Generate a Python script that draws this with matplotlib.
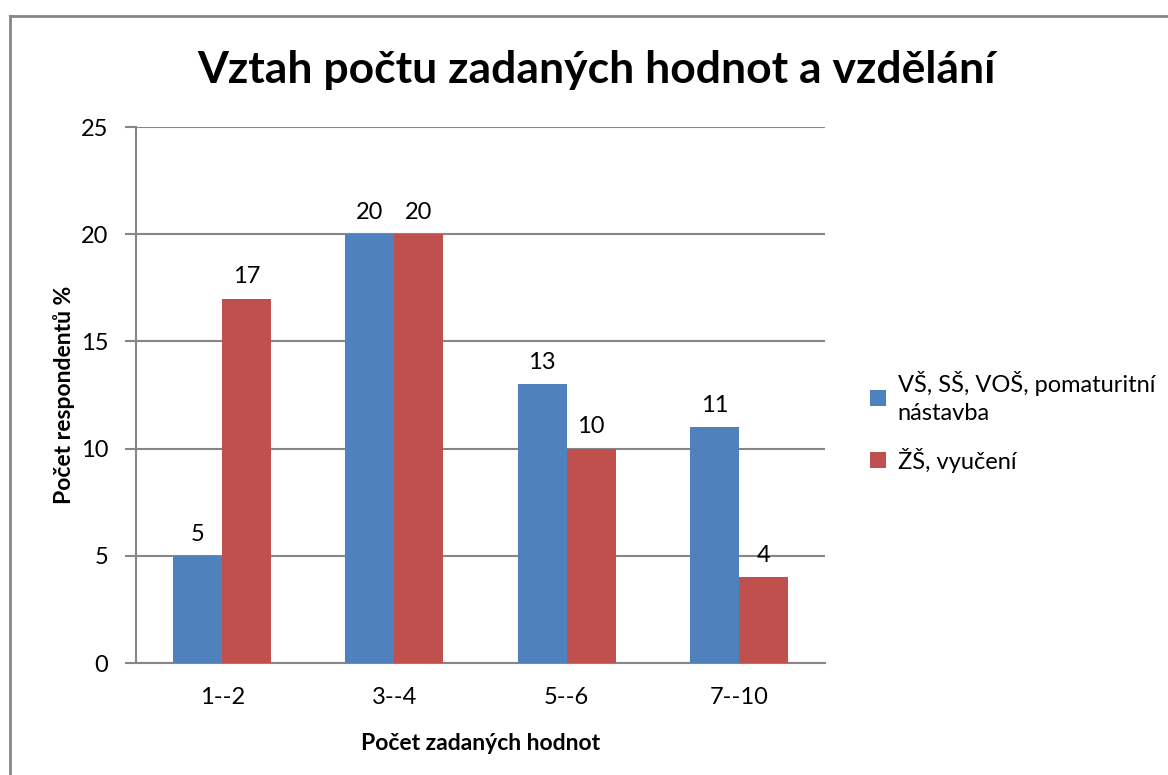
import matplotlib.pyplot as plt
import numpy as np
from matplotlib.lines import Line2D

plt.rcParams['font.family'] = ['Lato', 'DejaVu Sans']

# === data ===
categories = ["1--2", "3--4", "5--6", "7--10"]
vs_ss = [5, 20, 13, 11]
zs_vyuceni = [17, 20, 10, 4]
series_names = ["VŠ, SŠ, VOŠ, pomaturitní\nnástavba", "ŽŠ, vyučení"]
yticks = [0, 5, 10, 15, 20, 25]

BLUE = "#4F81BD"
RED = "#C0504D"
GRID = "#868686"

W, H = 1168, 775
fig = plt.figure(figsize=(W / 100, H / 100), dpi=100)
ax = fig.add_axes([136 / W, 1 - 663 / H, (825 - 136) / W, (663 - 127) / H])

# outer chart frame (top and left edges visible)
fig.add_artist(Line2D([10 / W, 10 / W], [0, 1 - 16 / H], transform=fig.transFigure,
                      color=GRID, lw=2))
fig.add_artist(Line2D([10 / W, 1], [1 - 16 / H, 1 - 16 / H], transform=fig.transFigure,
                      color=GRID, lw=2))

x = np.arange(len(categories))
bw = 0.284
b1 = ax.bar(x - bw / 2, vs_ss, bw, color=BLUE, label=series_names[0], zorder=3)
b2 = ax.bar(x + bw / 2, zs_vyuceni, bw, color=RED, label=series_names[1], zorder=3)

for bars, vals in ((b1, vs_ss), (b2, zs_vyuceni)):
    for rect, v in zip(bars, vals):
        ax.annotate(str(v), (rect.get_x() + rect.get_width() / 2, v),
                    xytext=(0, 8), textcoords="offset points",
                    ha="center", va="bottom", fontsize=17)

ax.set_xlim(-0.5, len(categories) - 0.5)
ax.set_ylim(0, 25)
ax.set_yticks(yticks)
ax.set_xticks(x)
ax.set_xticklabels(categories)
ax.yaxis.grid(True, color=GRID, lw=1.5, zorder=0)
ax.set_axisbelow(True)

for s in ("top", "right"):
    ax.spines[s].set_visible(False)
for s in ("left", "bottom"):
    ax.spines[s].set_color(GRID)
    ax.spines[s].set_linewidth(1.5)

ax.tick_params(axis="y", length=8, width=1.5, color=GRID, labelsize=17, pad=12)
ax.tick_params(axis="x", length=0, labelsize=17, pad=17)

ax.set_xlabel("Počet zadaných hodnot", fontsize=16.5, fontweight="bold", labelpad=18)
ax.set_ylabel("Počet respondentů %", fontsize=16.5, fontweight="bold", labelpad=4)

fig.text(596 / W, 1 - 70 / H, "Vztah počtu zadaných hodnot a vzdělání",
         ha="center", va="center", fontsize=32, fontweight="bold")

leg = ax.legend(loc="center left", bbox_to_anchor=(1.035, 0.45), frameon=False,
                fontsize=17, handlelength=0.65, handleheight=0.65, handletextpad=0.5,
                labelspacing=1.0)
for t in leg.get_texts():
    t.set_linespacing(1.4)

fig.savefig("out.png", dpi=100)
